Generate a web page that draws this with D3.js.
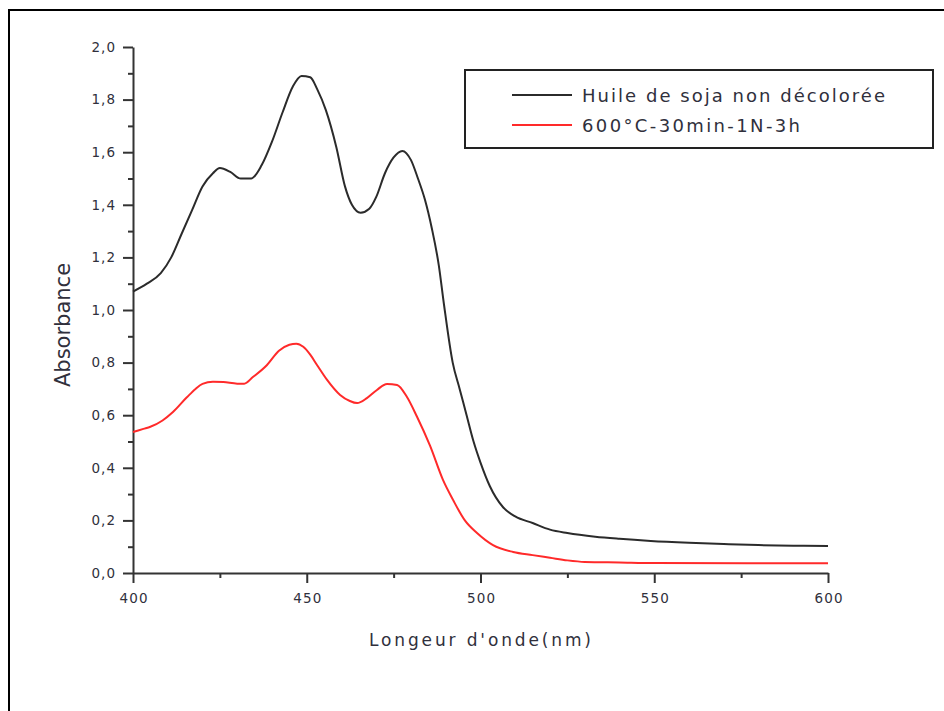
<!DOCTYPE html>
<html>
<head>
<meta charset="utf-8">
<script src="https://cdn.jsdelivr.net/npm/d3@7"></script>
<style>
  body { margin: 0; background: #fff; }
  svg { display: block; }
  text { font-family: "DejaVu Sans", Arial, sans-serif; }
</style>
</head>
<body>
<svg id="chart" width="944" height="711"></svg>
<script>
// UV-visible absorbance spectra (wavelength in nm)
const rawWavelength = [400, 404, 408, 411, 414, 417, 420, 423, 425, 428, 431, 434, 437, 440, 443, 446, 448.5, 451, 453, 455.5, 458.5, 461, 463, 465.5, 468, 470, 472.5, 475, 477.5, 480, 482, 484, 486, 488, 489.5, 492, 494, 496, 498, 500, 502.7, 506.5, 510, 515, 520, 525, 533, 540, 549, 560, 570, 580, 590, 600];
const rawAbsorbance = [1.07, 1.10, 1.14, 1.20, 1.29, 1.38, 1.47, 1.52, 1.54, 1.525, 1.50, 1.50, 1.55, 1.64, 1.75, 1.85, 1.89, 1.885, 1.84, 1.76, 1.62, 1.47, 1.40, 1.37, 1.385, 1.43, 1.52, 1.58, 1.605, 1.57, 1.50, 1.42, 1.31, 1.17, 1.02, 0.80, 0.70, 0.60, 0.50, 0.42, 0.33, 0.25, 0.215, 0.19, 0.165, 0.152, 0.138, 0.13, 0.122, 0.115, 0.11, 0.106, 0.104, 0.103];

const treatedWavelength = [400, 403, 405, 408.5, 411.5, 415.5, 418, 420, 423, 426, 430, 432, 434.5, 438.5, 442, 445, 447, 449, 451, 453, 455.8, 459.6, 462.4, 464.5, 467.3, 470.2, 473.1, 476, 478.8, 481.7, 485.5, 489.2, 492.1, 495.5, 499, 503.6, 509.4, 515, 520, 525, 530, 540, 550, 600];
const treatedAbsorbance = [0.536, 0.548, 0.556, 0.58, 0.612, 0.668, 0.70, 0.719, 0.727, 0.726, 0.72, 0.72, 0.745, 0.79, 0.845, 0.868, 0.872, 0.86, 0.83, 0.79, 0.735, 0.677, 0.654, 0.646, 0.665, 0.696, 0.719, 0.715, 0.67, 0.595, 0.483, 0.354, 0.278, 0.20, 0.152, 0.106, 0.08, 0.068, 0.058, 0.048, 0.042, 0.040, 0.038, 0.037];

const seriesNames = ["Huile de soja non décolorée", "600°C-30min-1N-3h"];
const seriesColors = ["#2b2b2b", "#ff2a2a"];

const xMajorTicks = [400, 450, 500, 550, 600];
const xMinorTicks = [425, 475, 525, 575];
const yMajorTicks = [0, 0.2, 0.4, 0.6, 0.8, 1.0, 1.2, 1.4, 1.6, 1.8, 2.0];
const yMinorTicks = [0.1, 0.3, 0.5, 0.7, 0.9, 1.1, 1.3, 1.5, 1.7, 1.9];

const xTitle = "Longeur d'onde(nm)";
const yTitle = "Absorbance";

const svg = d3.select("#chart");

// Page frame (left and top rules)
svg.append("path")
  .attr("d", "M9,711V10H944")
  .attr("fill", "none")
  .attr("stroke", "#000")
  .attr("stroke-width", 2);

const x = d3.scaleLinear().domain([400, 600]).range([133, 828]);
const y = d3.scaleLinear().domain([0, 2]).range([573, 47]);

const fmt = d => d.toFixed(1).replace(".", ",");
const axisColor = "#333";
const labelColor = "#30303c";

// Minor ticks
svg.append("g")
  .attr("transform", `translate(0,${y(0)})`)
  .call(d3.axisBottom(x).tickValues(xMinorTicks).tickSize(5).tickSizeOuter(0).tickFormat(""))
  .call(g => g.select(".domain").remove())
  .call(g => g.selectAll("line").attr("stroke", axisColor).attr("stroke-width", 2));

svg.append("g")
  .attr("transform", `translate(${x(400)},0)`)
  .call(d3.axisLeft(y).tickValues(yMinorTicks).tickSize(5).tickSizeOuter(0).tickFormat(""))
  .call(g => g.select(".domain").remove())
  .call(g => g.selectAll("line").attr("stroke", axisColor).attr("stroke-width", 2));

// Major axes
const xAxis = svg.append("g")
  .attr("transform", `translate(0,${y(0)})`)
  .call(d3.axisBottom(x).tickValues(xMajorTicks).tickSize(10).tickSizeOuter(0).tickPadding(10).tickFormat(d3.format("d")));
xAxis.select(".domain").attr("stroke", axisColor).attr("stroke-width", 2);
xAxis.selectAll("line").attr("stroke", axisColor).attr("stroke-width", 2);
xAxis.selectAll("text")
  .attr("fill", labelColor)
  .attr("font-size", 13.5)
  .attr("letter-spacing", "1.2px")
  .attr("dx", "0.6px");

const yAxis = svg.append("g")
  .attr("transform", `translate(${x(400)},0)`)
  .call(d3.axisLeft(y).tickValues(yMajorTicks).tickSize(10).tickSizeOuter(0).tickPadding(7).tickFormat(fmt));
yAxis.select(".domain").attr("stroke", axisColor).attr("stroke-width", 2);
yAxis.selectAll("line").attr("stroke", axisColor).attr("stroke-width", 2);
yAxis.selectAll("text")
  .attr("fill", labelColor)
  .attr("font-size", 13.5)
  .attr("letter-spacing", "1px");

// Axis titles
svg.append("text")
  .attr("x", 480)
  .attr("y", 646)
  .attr("text-anchor", "middle")
  .attr("font-size", 17)
  .attr("fill", labelColor)
  .attr("textLength", 222)
  .attr("lengthAdjust", "spacing")
  .text(xTitle);

svg.append("text")
  .attr("transform", "translate(70,325) rotate(-90)")
  .attr("text-anchor", "middle")
  .attr("font-size", 21)
  .attr("fill", labelColor)
  .text(yTitle);

// Spectra
const line = d3.line().curve(d3.curveMonotoneX).x(d => x(d[0])).y(d => y(d[1]));
const series = [
  d3.zip(rawWavelength, rawAbsorbance),
  d3.zip(treatedWavelength, treatedAbsorbance)
];
series.forEach((pts, i) => {
  svg.append("path")
    .datum(pts)
    .attr("fill", "none")
    .attr("stroke", seriesColors[i])
    .attr("stroke-width", 2)
    .attr("stroke-linejoin", "round")
    .attr("d", line);
});

// Legend
const legend = svg.append("g");
legend.append("rect")
  .attr("x", 465).attr("y", 70)
  .attr("width", 468).attr("height", 78)
  .attr("fill", "#fff")
  .attr("stroke", "#222")
  .attr("stroke-width", 2);
const legendText = [303, 218];
seriesNames.forEach((name, i) => {
  const cy = 95 + i * 30;
  legend.append("line")
    .attr("x1", 512).attr("x2", 572)
    .attr("y1", cy).attr("y2", cy)
    .attr("stroke", seriesColors[i])
    .attr("stroke-width", 2);
  legend.append("text")
    .attr("x", 582).attr("y", cy + 6.5)
    .attr("font-size", 18)
    .attr("fill", labelColor)
    .attr("textLength", legendText[i])
    .attr("lengthAdjust", "spacing")
    .text(name);
});
</script>
</body>
</html>
